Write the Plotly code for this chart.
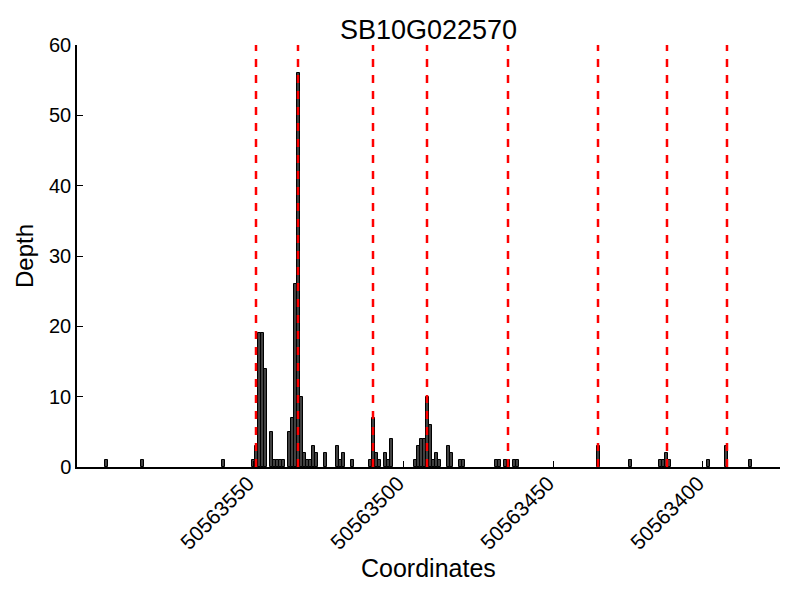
import plotly.graph_objects as go

BASE = 50563500
# bar positions (offset from BASE) and depths
offsets = [99, 87, 60, 50, 49, 48, 47, 46, 44, 43, 42, 41, 40, 38, 37, 36, 35, 34, 33, 32,
           31, 30, 29, 26, 22, 21, 20, 17, 11, 10, 9, 8, 6, 5, 4, -4, -5, -6, -7, -8, -9,
           -10, -11, -12, -15, -16, -19, -20, -31, -32, -34, -35, -37, -38, -65, -76, -86,
           -87, -88, -89, -102, -108, -116]
depths = [1, 1, 1, 1, 3, 19, 19, 14, 5, 1, 1, 1, 1, 5, 7, 26, 56, 10, 2, 1,
          1, 3, 2, 2, 3, 1, 2, 1, 1, 7, 2, 1, 2, 1, 4, 1, 3, 4, 4, 10, 6,
          1, 2, 1, 3, 2, 1, 1, 1, 1, 1, 1, 1, 1, 3, 1, 1,
          1, 2, 1, 1, 3, 1]
# red dashed marker positions (offset from BASE)
marker_offsets = [49, 35, 10, -8, -35, -65, -88, -108]

tick_vals = [50563550, 50563500, 50563450, 50563400]
tick_text = ["50563550", "50563500", "50563450", "50563400"]
x_range = [50563608.67, 50563374.33]

coords = [BASE + o for o in offsets]
markers = [BASE + o for o in marker_offsets]

FONT = "Liberation Sans, Arial, sans-serif"

fig = go.Figure()
fig.add_trace(go.Bar(
    x=coords, y=depths, width=1,
    marker=dict(color="#404040", line=dict(color="black", width=1)),
    showlegend=False,
))

for m in markers:
    fig.add_shape(type="line", xref="x", yref="paper", x0=m, x1=m, y0=0, y1=1,
                  line=dict(color="red", width=2.5, dash="8px,8px"), layer="above")

fig.add_annotation(text="Coordinates", xref="paper", yref="paper", x=0.5, y=-0.2393,
                   xanchor="center", yanchor="middle", showarrow=False,
                   font=dict(size=25, family=FONT, color="black"))

fig.update_layout(
    width=800, height=600,
    margin=dict(l=69, r=28, t=37, b=141, autoexpand=False),
    plot_bgcolor="white", paper_bgcolor="white",
    font=dict(family=FONT, color="black"),
    bargap=0,
    title=dict(text="SB10G022570", font=dict(size=27, family=FONT, color="black"),
               x=0.5, xref="paper", xanchor="center",
               y=1 - 22 / 600, yref="container", yanchor="middle"),
    xaxis=dict(range=x_range, tickvals=tick_vals, ticktext=tick_text, tickangle=-45,
               tickfont=dict(size=21), showline=True, linecolor="black", linewidth=1.5,
               ticks="inside", ticklen=6, tickcolor="black", showgrid=False, zeroline=False,
               automargin=False, ticklabelstandoff=-6, ticklabelshift=5),
    yaxis=dict(range=[0, 60], dtick=10, tickfont=dict(size=20), showline=True,
               linecolor="black", linewidth=1.5, ticks="inside", ticklen=6,
               tickcolor="black", showgrid=False, zeroline=False, automargin=False,
               title=dict(text="Depth", font=dict(size=24), standoff=9)),
)

fig.write_html("out.html")
